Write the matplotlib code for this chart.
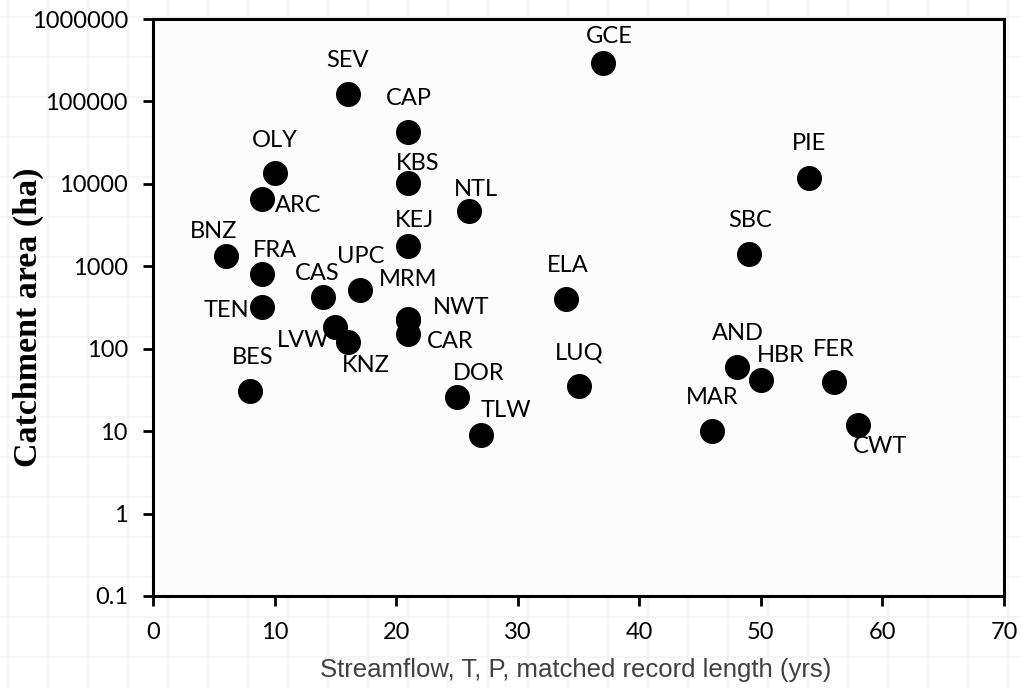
import numpy as np
import matplotlib.pyplot as plt
from matplotlib.lines import Line2D

sites = ['SEV', 'GCE', 'CAP', 'KBS', 'NTL', 'KEJ', 'OLY', 'ARC', 'BNZ', 'FRA',
         'TEN', 'CAS', 'UPC', 'MRM', 'NWT', 'CAR', 'LVW', 'KNZ', 'BES', 'ELA',
         'LUQ', 'DOR', 'TLW', 'AND', 'HBR', 'FER', 'CWT', 'MAR', 'PIE', 'SBC']
years = [16, 37, 21, 21, 26, 21, 10, 9, 6, 9,
         9, 14, 17, 21, 21, 21, 15, 16, 8, 34,
         35, 25, 27, 48, 50, 56, 58, 46, 54, 49]
area = [123000, 292000, 42500, 10200, 4700, 1760, 13500, 6500, 1330, 800,
        320, 425, 515, 230, 220, 150, 183, 120, 31, 400,
        35, 26, 9, 60, 42, 39, 12, 10, 11800, 1400]
# label offsets in pixels (dx, dy)
offsets = [(0, 34), (6, 27), (1, 34), (9, 20), (7, 21), (6, 26), (0, 33), (36, -6), (-12, 25), (13, 24),
           (-36, -3), (-6, 23), (1, 34), (0, 39), (53, 13), (42, -7), (-32, -13), (18, -23), (2, 33), (1, 34),
           (1, 33), (22, 23), (25, 24), (1, 34), (20, 24), (0, 33), (22, -22), (0, 34), (0, 34), (1, 34)]

fig = plt.figure(figsize=(10.22, 6.88), dpi=100)
W, H = 1022, 688

# faint spreadsheet grid behind the figure
for gx in np.arange(8, W, 40):
    fig.add_artist(Line2D([gx / W, gx / W], [0, 1], color='#f3f3f3', lw=1.2, zorder=-10))
for gy in np.arange(17, H, 40):
    fig.add_artist(Line2D([0, 1], [1 - gy / H, 1 - gy / H], color='#f3f3f3', lw=1.2, zorder=-10))

ax = fig.add_axes([153 / W, 1 - 596 / H, (1004 - 153) / W, (596 - 19) / H])
ax.set_facecolor('#fcfcfc')
ax.set_yscale('log')
ax.set_xlim(0, 70)
ax.set_ylim(0.1, 1000000)

ax.plot(years, area, 'o', color='black', markersize=17, zorder=3)
for s, x, y, (dx, dy) in zip(sites, years, area, offsets):
    ax.annotate(s, (x, y), xytext=(dx, dy), textcoords='offset pixels',
                ha='center', va='center', fontsize=17, family='Lato', color='black')

yt = [0.1, 1, 10, 100, 1000, 10000, 100000, 1000000]
ax.set_yticks(yt)
ax.set_yticklabels(['0.1', '1', '10', '100', '1000', '10000', '100000', '1000000'])
ax.minorticks_off()
ax.set_xticks(range(0, 71, 10))
for lab in ax.get_xticklabels() + ax.get_yticklabels():
    lab.set_family('Lato')
    lab.set_fontsize(17)
ax.tick_params(direction='out', length=7, width=2)
ax.tick_params(axis='y', pad=11)
ax.tick_params(axis='x', pad=11.5)
for sp in ax.spines.values():
    sp.set_linewidth(2.2)

ax.set_xlabel('Streamflow, T, P, matched record length (yrs)', family='Liberation Sans',
              fontsize=18.5, color='#404040')
ax.xaxis.set_label_coords((576 - 153) / 851, -(62 / 577))
ax.set_ylabel('Catchment area (ha)', family='Liberation Serif', fontweight='bold',
              fontsize=24.5)
ax.yaxis.set_label_coords((44 - 153) / 851, (596 - 317) / 577)

fig.savefig('out.png', dpi=100)
